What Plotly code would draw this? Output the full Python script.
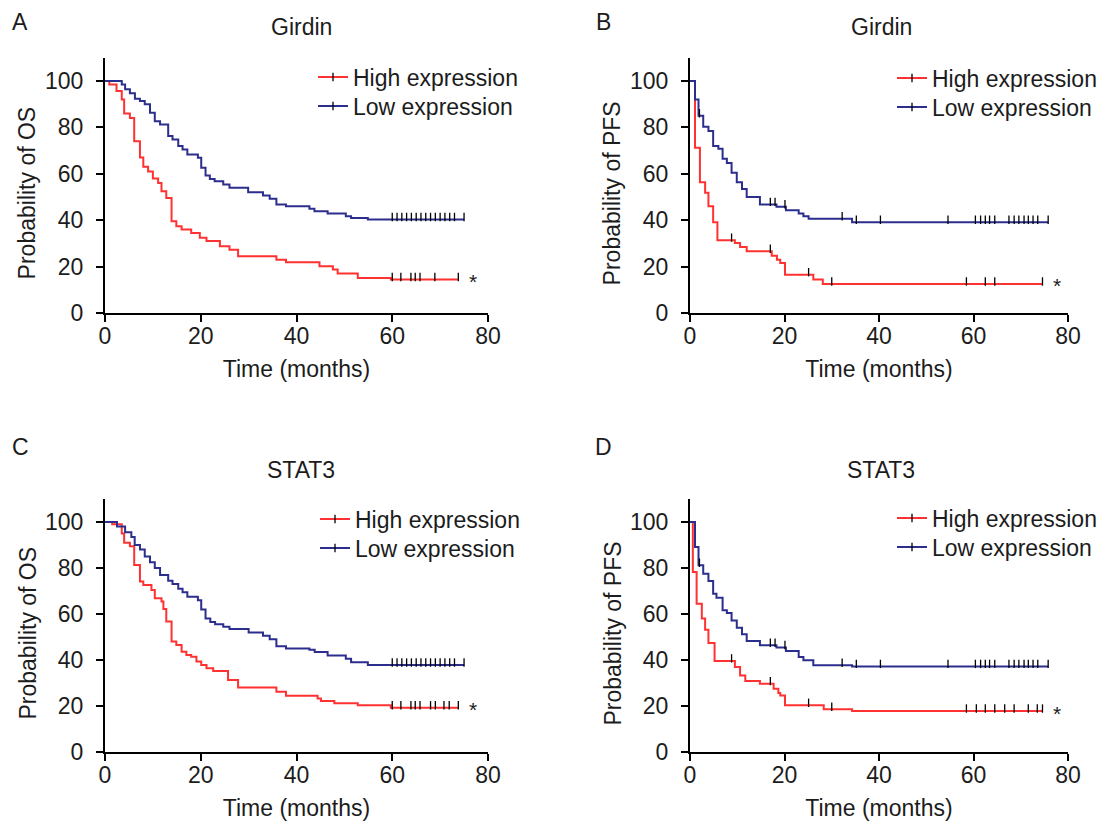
import plotly.graph_objects as go

# ---------------- data (Kaplan-Meier steps) ----------------
# Panel A: Girdin, OS
A_high_times = [0.9, 2.4, 3.5, 4.0, 5.2, 6.1, 7.3, 8.0, 9.0, 10.0, 11.1, 11.8, 12.8, 13.9, 14.9, 16.0,
                18.0, 19.8, 21.2, 24.0, 26.0, 27.8, 35.8, 37.8, 44.8, 47.6, 48.6, 52.8, 59.7]
A_high_surv = [98.5, 95.7, 92.0, 86.0, 84.0, 74.0, 67.0, 63.0, 61.0, 58.0, 56.0, 52.5, 49.6, 39.6, 37.4, 36.0,
               34.5, 32.4, 31.0, 28.8, 27.3, 24.5, 23.0, 21.9, 20.1, 18.7, 17.0, 15.1, 14.4]
A_high_end = 73.8
A_high_censor = [60.0, 61.8, 63.9, 64.8, 65.8, 68.9, 73.8]

A_low_times = [3.5, 4.2, 5.2, 6.25, 7.3, 8.3, 9.4, 10.4, 11.5, 13.2, 14.1, 15.3, 16.2, 17.2, 19.4, 20.1,
               21.0, 21.9, 22.9, 24.7, 26.0, 29.9, 33.0, 34.4, 35.8, 37.8, 42.7, 43.75, 46.5, 50.3, 51.4, 54.9]
A_low_surv = [98.5, 96.4, 94.7, 92.4, 91.4, 90.0, 86.3, 82.7, 81.3, 76.3, 74.8, 72.0, 70.5, 68.3, 66.9, 62.6,
              59.3, 57.8, 56.8, 55.4, 54.0, 52.1, 50.6, 49.2, 46.8, 46.0, 44.9, 43.9, 42.9, 41.7, 41.0, 40.3]
A_low_end = 75.0
A_low_censor = [60, 61, 62, 63, 64, 65, 66, 67, 68, 69, 70, 71, 72, 73, 75]

# Panel B: Girdin, PFS
B_high_times = [1.06, 2.1, 3.2, 3.9, 4.9, 5.8, 9.5, 10.6, 12.0, 17.3, 18.4, 19.1, 20.1, 26.1, 28.1]
B_high_surv = [71.2, 56.4, 51.8, 46.0, 39.1, 31.4, 30.2, 28.5, 26.6, 24.7, 23.0, 21.6, 16.5, 14.4, 12.5]
B_high_end = 74.6
B_high_censor = [8.8, 17.0, 25.1, 30.0, 58.5, 62.5, 64.5, 74.6]

B_low_times = [1.06, 1.8, 2.8, 3.9, 4.9, 6.0, 6.9, 7.8, 8.8, 9.9, 11.0, 12.0, 14.8, 18.3, 20.3, 23.0, 24.0,
               25.1, 34.3]
B_low_surv = [92.0, 85.0, 80.3, 78.4, 72.0, 70.8, 66.5, 64.7, 60.4, 56.4, 53.5, 50.0, 46.8, 45.8, 44.3, 42.9,
              41.7, 40.6, 39.1]
B_low_end = 75.8
B_low_censor = [2.0, 17.0, 18.0, 20.1, 32.2, 35.2, 40.3, 54.6, 60.4, 61.5, 62.5, 63.4, 64.5, 67.5, 68.6,
                69.6, 70.7, 71.6, 72.6, 73.6, 75.8]

# Panel C: STAT3, OS
C_high_times = [1.5, 3.5, 4.0, 5.2, 6.1, 7.3, 8.0, 9.7, 10.4, 11.8, 12.2, 12.8, 13.9, 14.9, 16.0, 17.0, 18.0,
                19.1, 20.1, 21.2, 22.6, 25.7, 27.8, 35.8, 37.8, 44.4, 45.1, 47.9, 52.8, 59.7]
C_high_surv = [99.0, 95.0, 91.0, 89.5, 81.3, 74.1, 72.6, 70.4, 66.8, 65.4, 62.2, 56.7, 48.0, 46.5, 43.6, 42.2,
               41.4, 39.3, 37.8, 36.4, 35.2, 31.3, 28.0, 26.2, 24.5, 23.3, 22.2, 21.2, 20.3, 19.2]
C_high_end = 73.8
C_high_censor = [60.0, 61.8, 63.9, 64.8, 65.8, 68.0, 69.0, 70.8, 71.9, 73.8]

C_low_times = [2.5, 4.2, 5.5, 6.2, 7.3, 8.3, 9.4, 10.4, 11.5, 13.2, 14.1, 15.3, 16.2, 17.2, 19.4, 20.1, 21.0,
               22.0, 23.0, 24.7, 26.0, 30.0, 33.0, 34.4, 35.8, 37.8, 42.7, 43.8, 46.5, 50.3, 51.4, 54.9]
C_low_surv = [98.0, 95.5, 93.5, 90.0, 88.0, 85.0, 82.5, 80.0, 77.0, 74.5, 73.0, 71.0, 69.5, 67.5, 66.0, 62.0,
              58.0, 56.5, 55.5, 54.5, 53.5, 52.0, 50.5, 49.0, 46.0, 45.0, 44.5, 43.5, 42.0, 40.5, 39.0, 37.8]
C_low_end = 75.0
C_low_censor = [60, 61, 62, 63, 64, 65, 66, 67, 68, 69, 70, 71, 72, 73, 75]

# Panel D: STAT3, PFS
D_high_times = [0.6, 1.4, 2.5, 3.2, 3.9, 5.2, 9.5, 10.6, 11.7, 14.8, 17.7, 18.7, 19.1, 20.1, 28.3, 34.3]
D_high_surv = [78.3, 64.5, 58.0, 53.2, 47.4, 39.6, 37.0, 33.3, 30.9, 29.7, 27.5, 25.7, 24.6, 20.3, 18.6, 17.8]
D_high_end = 74.6
D_high_censor = [8.8, 17.0, 25.1, 30.0, 58.5, 60.6, 62.5, 64.5, 66.6, 68.6, 71.6, 73.5, 74.6]

D_low_times = [1.06, 1.8, 2.8, 3.9, 4.9, 5.6, 6.9, 7.8, 8.8, 9.9, 11.0, 12.0, 14.8, 18.3, 20.3, 23.0, 24.0,
               26.1, 34.3]
D_low_surv = [89.1, 81.2, 77.5, 74.3, 68.8, 67.1, 61.6, 60.4, 57.2, 54.0, 51.2, 48.3, 46.4, 45.4, 43.9, 41.3,
              39.9, 37.7, 37.2]
D_low_end = 75.8
D_low_censor = [2.0, 17.0, 18.0, 20.1, 32.2, 35.2, 40.3, 54.6, 60.4, 61.5, 62.5, 63.4, 64.5, 67.5, 68.6,
                69.6, 70.7, 71.6, 72.6, 73.6, 75.8]

panel_letters = ["A", "B", "C", "D"]
panel_titles = ["Girdin", "Girdin", "STAT3", "STAT3"]
y_titles = ["Probability of OS", "Probability of PFS", "Probability of OS", "Probability of PFS"]
x_title = "Time (months)"
group_names = ["High expression", "Low expression"]
x_ticks = [0, 20, 40, 60, 80]
y_ticks = [0, 20, 40, 60, 80, 100]
significance = "*"

# ---------------- style / layout (pixel positions in page coordinates) ----------------
RED = "#FF3131"
BLUE = "#2C2E8E"
TXT = "#1c1c1c"
FONT = "Liberation Sans, Arial, Helvetica, sans-serif"
FS = 23
OFF = 8                      # the page body adds an 8 px margin around the figure
W, H = 1106 - OFF, 821 - OFF

boxes = [(105, 488, 57.8, 313), (690, 1068, 57.8, 313),
         (105, 488, 499, 752), (690, 1068, 499, 752)]          # x0, x1, ytop, ybottom
letter_pos = [(20, 22), (603, 22), (20, 447), (603, 447)]
title_pos = [(301, 27), (881, 27), (301, 470), (881, 470)]
legend_pos = [[(313, 77), (313, 106)], [(892, 78), (892, 107)],
              [(315, 519), (315, 548)], [(892, 518), (892, 547)]]  # legend box left, item centre


def px(x):
    return (x - OFF) / W


def py(y):
    return 1 - (y - OFF) / H


def surv_at(times, surv, t):
    v = 100.0
    for ti, si in zip(times, surv):
        if ti <= t:
            v = si
    return v


panels = [
    (A_high_times, A_high_surv, A_high_end, A_high_censor, A_low_times, A_low_surv, A_low_end, A_low_censor),
    (B_high_times, B_high_surv, B_high_end, B_high_censor, B_low_times, B_low_surv, B_low_end, B_low_censor),
    (C_high_times, C_high_surv, C_high_end, C_high_censor, C_low_times, C_low_surv, C_low_end, C_low_censor),
    (D_high_times, D_high_surv, D_high_end, D_high_censor, D_low_times, D_low_surv, D_low_end, D_low_censor),
]

fig = go.Figure()
annotations = []
layout_axes = {}
leg_count = 0

for i, p in enumerate(panels):
    sfx = "" if i == 0 else str(i + 1)
    xa, ya = "x" + sfx, "y" + sfx
    ht, hs, he, hc, lt, ls, le, lc = p
    groups = [(ht, hs, he, hc, RED, group_names[0]), (lt, ls, le, lc, BLUE, group_names[1])]
    for (t, s, e, c, col, name) in groups:
        fig.add_trace(go.Scatter(
            x=[0] + t + [e], y=[100] + s + [s[-1]], mode="lines",
            line=dict(color=col, width=2, shape="hv"),
            xaxis=xa, yaxis=ya, showlegend=False, hoverinfo="skip"))
    for (t, s, e, c, col, name) in groups:
        fig.add_trace(go.Scatter(
            x=c, y=[surv_at(t, s, ci) + 1.1 for ci in c], mode="markers",
            marker=dict(symbol="line-ns", size=6, line=dict(color="black", width=1.3)),
            xaxis=xa, yaxis=ya, showlegend=False, hoverinfo="skip"))
    for g, (t, s, e, c, col, name) in enumerate(groups):
        leg_count += 1
        leg = "legend" if leg_count == 1 else "legend%d" % leg_count
        fig.add_trace(go.Scatter(
            x=[None], y=[None], mode="lines+markers", name=name,
            line=dict(color=col, width=2),
            marker=dict(symbol="line-ns", size=6, line=dict(color="black", width=1.3)),
            xaxis=xa, yaxis=ya, legend=leg, showlegend=True))
        lx, ly = legend_pos[i][g]
        layout_axes[leg] = dict(x=px(lx), y=py(ly), xanchor="left", yanchor="middle",
                                bgcolor="rgba(0,0,0,0)", borderwidth=0, itemwidth=30,
                                font=dict(family=FONT, size=FS, color=TXT))

    x0, x1, yt, yb = boxes[i]
    axis_common = dict(showline=True, linecolor="black", linewidth=2, ticks="outside",
                       ticklen=7, tickwidth=2, tickcolor="black", showgrid=False, zeroline=False,
                       automargin=False,
                       tickfont=dict(family=FONT, size=FS, color=TXT))
    layout_axes["xaxis" + sfx] = dict(
        axis_common, domain=[px(x0), px(x1)], range=[0, 80], tickvals=x_ticks, anchor=ya,
        ticklabelstandoff=-6,
        title=dict(text=x_title, font=dict(family=FONT, size=FS, color=TXT), standoff=13))
    layout_axes["yaxis" + sfx] = dict(
        axis_common, domain=[py(yb), py(yt)], range=[0, 110], tickvals=y_ticks, anchor=xa,
        ticklabelstandoff=8)

    # y-axis title (rotated), centred a little below the middle of the axis as in the original
    annotations.append(dict(text=y_titles[i], xref="paper", yref="paper",
                            x=px(x0 - 78), y=py((yt + yb) / 2 + 8), textangle=-90,
                            showarrow=False, xanchor="center", yanchor="middle",
                            font=dict(family=FONT, size=FS, color=TXT)))
    lx, ly = letter_pos[i]
    annotations.append(dict(text=panel_letters[i], xref="paper", yref="paper",
                            x=px(lx), y=py(ly), showarrow=False,
                            xanchor="center", yanchor="middle",
                            font=dict(family=FONT, size=FS, color=TXT)))
    tx, ty = title_pos[i]
    annotations.append(dict(text=panel_titles[i], xref="paper", yref="paper",
                            x=px(tx), y=py(ty), showarrow=False,
                            xanchor="center", yanchor="middle",
                            font=dict(family=FONT, size=FS, color=TXT)))
    # significance mark next to the end of the high-expression curve
    annotations.append(dict(text=significance, xref=xa, yref=ya, x=he + 3, y=hs[-1],
                            showarrow=False, xanchor="center", yanchor="middle", yshift=-2,
                            font=dict(family=FONT, size=21, color=TXT)))

fig.update_layout(
    width=W, height=H, margin=dict(l=0, r=0, t=0, b=0),
    paper_bgcolor="white", plot_bgcolor="white",
    font=dict(family=FONT, size=FS, color=TXT),
    annotations=annotations, **layout_axes)

fig.write_html("out.html")
